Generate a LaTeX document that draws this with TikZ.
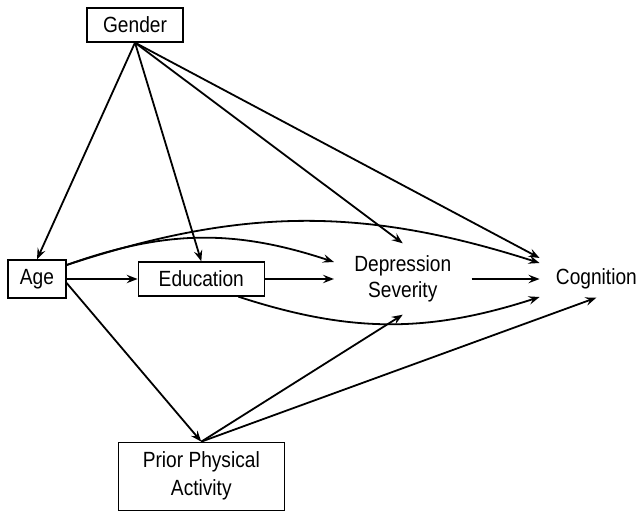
\documentclass[tikz,border=0pt]{standalone}
\usepackage{fontspec}
\setmainfont[FakeStretch=0.87]{Liberation Sans}
\usetikzlibrary{positioning, arrows.meta}

\begin{document}
\begin{tikzpicture}[
    x=1pt, y=1pt,
    >={Stealth[length=5.5pt, width=4.2pt, inset=2pt]},
    font=\fontsize{11}{13}\selectfont,
    box/.style={draw, line width=0.65pt, align=center, inner sep=0pt},
    var/.style={align=center, inner xsep=10pt, inner ysep=6pt},
    arrow/.style={->, line width=0.9pt}
]
    \useasboundingbox (0,0) rectangle (318.5,255);

    \node[box, minimum width=29pt, minimum height=19pt] (age) at (18.5,115.5) {Age};
    \node[box, minimum width=63pt, minimum height=17pt, right=35.5pt of age] (edu) {Education};
    \node[var, right=34.5pt of edu] (dep) {Depression\\Severity};
    \node[var, inner xsep=8pt, inner ysep=4pt, right=34pt of dep] (cog) {Cognition};
    \node[box, minimum width=48pt, minimum height=17pt] (gender) at (67.5,242.5) {Gender};
    \node[box, minimum width=83pt, minimum height=34pt, below=72.5pt of edu,
          font=\fontsize{11}{14}\selectfont] (ppa) {Prior Physical\\Activity};

    \draw[arrow] (gender.south) -- (age.north);
    \draw[arrow] (gender.south) -- (edu.north);
    \draw[arrow] (gender.south) -- (dep.north);
    \draw[arrow] (gender.south) -- ([yshift=10.5pt]cog.west);
    \draw[arrow] (age.east) -- (edu.west);
    \draw[arrow] ([yshift=7pt]age.east) to[bend left=18] ([yshift=8pt]cog.west);
    \draw[arrow] ([yshift=7pt]age.east) to[bend left=19] ([yshift=8.5pt]dep.west);
    \draw[arrow] ([yshift=-2pt]age.east) -- (ppa.north);
    \draw[arrow] (edu.east) -- (dep.west);
    \draw[arrow] ([xshift=18.5pt]edu.south) to[bend right=18] ([yshift=-9pt]cog.west);
    \draw[arrow] (dep.east) -- (cog.west);
    \draw[arrow] (ppa.north) -- (dep.south);
    \draw[arrow] (ppa.north) -- (cog.south);
\end{tikzpicture}
\end{document}
